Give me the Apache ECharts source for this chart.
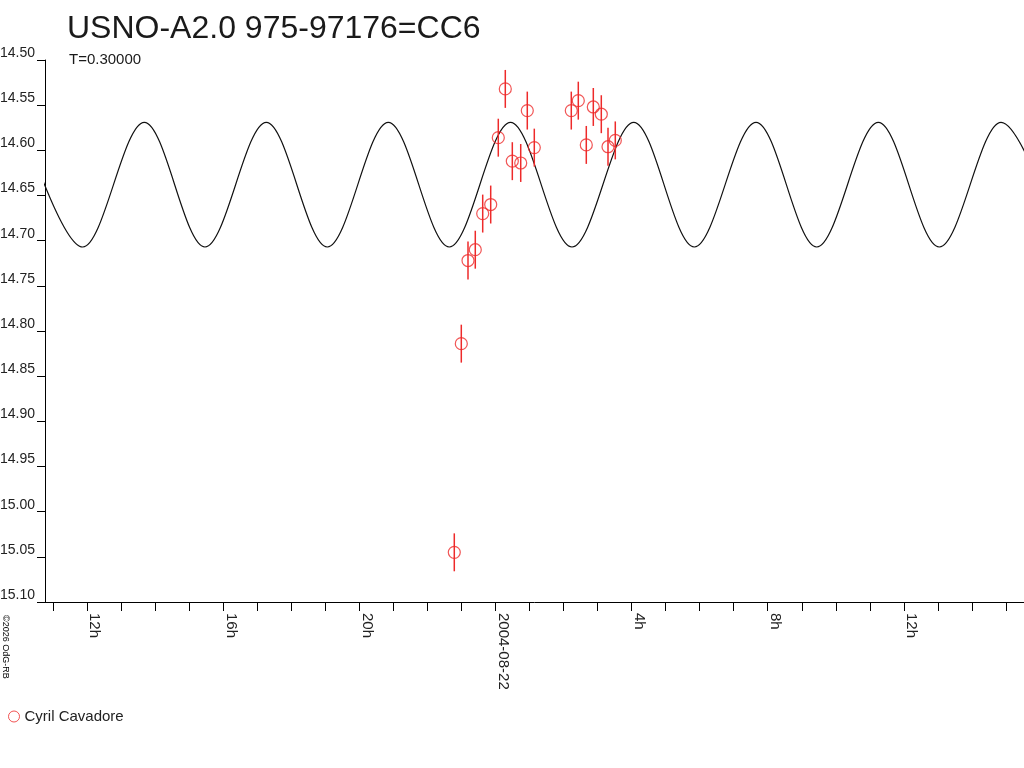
<!DOCTYPE html>
<html>
<head>
<meta charset="utf-8">
<script src="https://cdn.jsdelivr.net/npm/echarts@6/dist/echarts.min.js"></script>
<style>
html,body{margin:0;padding:0;background:#fff;}
#chart{width:1024px;height:768px;}
</style>
</head>
<body>
<div id="chart"></div>
<script>
// Observations (hours since 2004-08-21 00:00 UT, magnitude, error)
const obsName = 'Cyril Cavadore';
const obsHours = [22.789, 22.995, 23.192, 23.406, 23.624, 23.859, 24.082, 24.288, 24.494, 24.741,
                  24.934, 25.140, 26.227, 26.433, 26.668, 26.874, 27.109, 27.306, 27.520];
const obsMag   = [15.045, 14.814, 14.722, 14.710, 14.670, 14.660, 14.586, 14.532, 14.612, 14.614,
                  14.556, 14.597, 14.556, 14.545, 14.594, 14.552, 14.560, 14.596, 14.589];
const obsErr   = [0.021, 0.021, 0.021, 0.021, 0.021, 0.021, 0.021, 0.021, 0.021, 0.021,
                  0.021, 0.021, 0.021, 0.021, 0.021, 0.021, 0.021, 0.021, 0.021];

// Fitted light curve: successive maxima / minima
const fitHours = [10.086, 11.870, 13.680, 15.463, 17.265, 19.057, 20.850, 22.642, 24.441,
                  26.248, 28.061, 29.842, 31.655, 33.439, 35.249, 37.041, 38.855, 40.647];
const fitMag   = [14.569, 14.707, 14.569, 14.707, 14.569, 14.707, 14.569, 14.707, 14.569,
                  14.707, 14.569, 14.707, 14.569, 14.707, 14.569, 14.707, 14.569, 14.707];

// Axis ticks
const xTickHours  = [11,12,13,14,15,16,17,18,19,20,21,22,23,24,25,26,27,28,29,30,31,32,33,34,35,36,37,38,39];
const xLabelHours = [12, 16, 20, 24, 28, 32, 36];
const xLabelText  = ['12h', '16h', '20h', '2004-08-22', '4h', '8h', '12h'];
const xMin = 10.762, xMax = 39.53;
const yMin = 14.50, yMax = 15.10, yStep = 0.05;

const titleText = 'USNO-A2.0 975-97176=CC6';
const subTitleText = 'T=0.30000';
const copyText = '\u00a92026 OdG-RB';

const red = '#ee2a2a';
const font = '"Liberation Sans", Arial, sans-serif';

const fitData = fitHours.map((h, i) => [h, fitMag[i]]);
const obsData = obsHours.map((h, i) => [h, obsMag[i]]);
const errData = obsHours.map((h, i) => [h, obsMag[i] - obsErr[i], obsMag[i] + obsErr[i]]);

const chart = echarts.init(document.getElementById('chart'), null, {renderer: 'canvas'});
chart.setOption({
  animation: false,
  backgroundColor: '#fff',
  title: [
    {text: titleText, left: 62, top: 8,
     textStyle: {fontFamily: font, fontSize: 32, fontWeight: 'normal', color: '#1a1a1a'}},
    {text: subTitleText, left: 64, top: 47,
     textStyle: {fontFamily: font, fontSize: 15, fontWeight: 'normal', color: '#1a1a1a'}}
  ],
  legend: {
    left: 3, top: 704, orient: 'horizontal',
    itemWidth: 11, itemHeight: 11,
    data: [{name: obsName, icon: 'circle',
            itemStyle: {color: 'transparent', borderColor: red, borderWidth: 1}}],
    textStyle: {fontFamily: font, fontSize: 15, color: '#222'}
  },
  graphic: [{
    type: 'text', left: 1, top: 615, rotation: -Math.PI / 2,
    style: {text: copyText, fontFamily: font, fontSize: 9, fill: '#000'}
  }],
  grid: {left: 45, right: 0, top: 60, bottom: 166, containLabel: false, outerBoundsMode: 'none'},
  xAxis: {
    type: 'value', min: xMin, max: xMax,
    axisLine: {show: true, onZero: false, lineStyle: {color: '#000', width: 1}},
    axisTick: {show: true, length: 9, customValues: xTickHours, lineStyle: {color: '#000'}},
    axisLabel: {
      customValues: xLabelHours, rotate: -90, margin: 11,
      verticalAlign: 'bottom',
      fontFamily: font, fontSize: 15, color: '#222',
      formatter: v => { const i = xLabelHours.indexOf(Math.round(v)); return i >= 0 ? xLabelText[i] : ''; }
    },
    splitLine: {show: false}
  },
  yAxis: {
    type: 'value', inverse: true, min: yMin, max: yMax, interval: yStep,
    axisLine: {show: true, onZero: false, lineStyle: {color: '#000', width: 1}},
    axisTick: {show: true, length: 8, lineStyle: {color: '#000'}},
    axisLabel: {
      margin: 10, verticalAlign: 'bottom',
      fontFamily: font, fontSize: 14, color: '#222',
      formatter: v => v.toFixed(2)
    },
    splitLine: {show: false}
  },
  series: [
    {
      type: 'line', name: 'fit', data: fitData, smooth: 0.34,
      showSymbol: false, symbol: 'none', clip: true,
      lineStyle: {color: '#111', width: 1.2}, z: 1
    },
    {
      type: 'custom', name: 'err', data: errData, z: 2,
      renderItem: (params, api) => {
        const p0 = api.coord([api.value(0), api.value(1)]);
        const p1 = api.coord([api.value(0), api.value(2)]);
        return {type: 'line', shape: {x1: p0[0], y1: p0[1], x2: p1[0], y2: p1[1]},
                style: {stroke: red, lineWidth: 1.5}};
      },
      encode: {x: 0, y: [1, 2]}
    },
    {
      type: 'scatter', name: obsName, data: obsData, symbol: 'circle', symbolSize: 12,
      itemStyle: {color: 'transparent', borderColor: red, borderWidth: 1.2}, z: 3
    }
  ]
});
</script>
</body>
</html>
